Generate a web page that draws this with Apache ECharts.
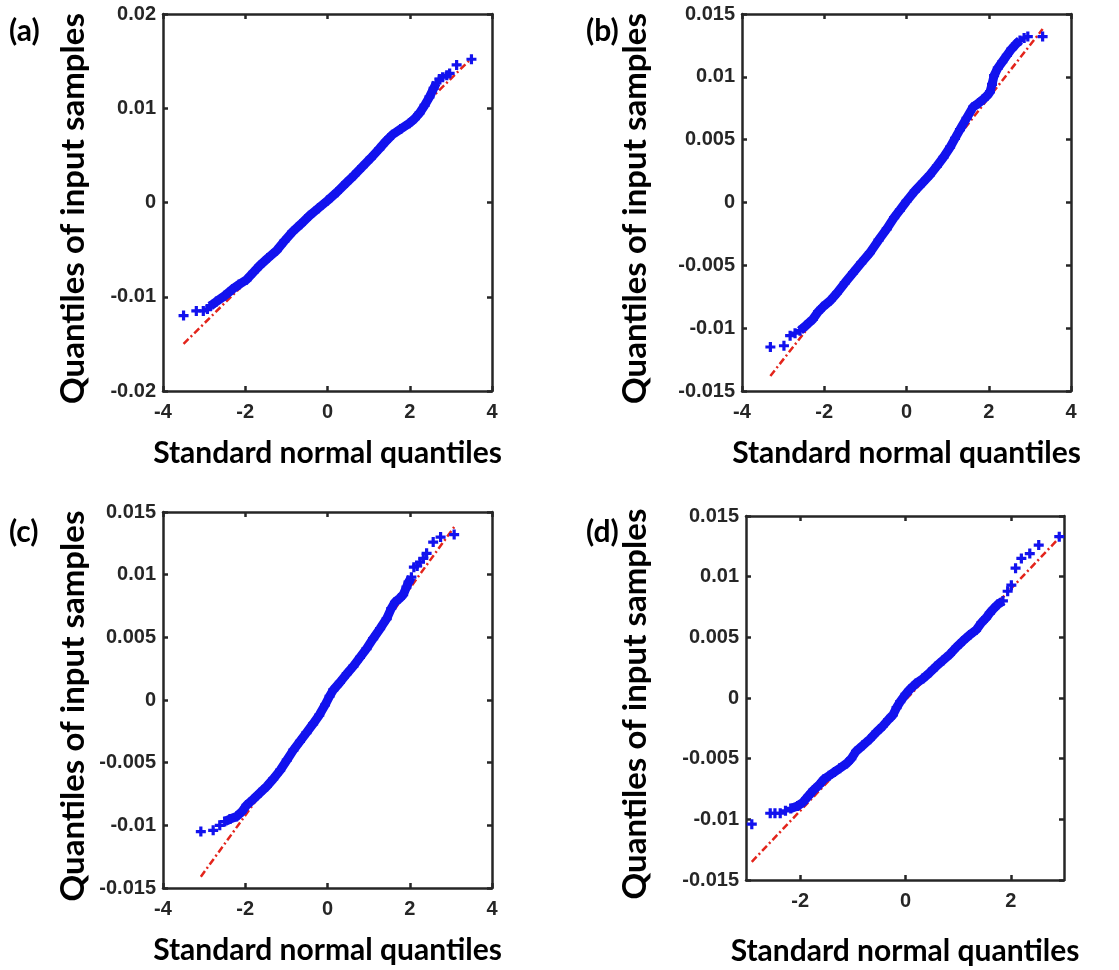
<!DOCTYPE html>
<html>
<head>
<meta charset="utf-8">
<title>QQ plots</title>
<script src="https://cdn.jsdelivr.net/npm/echarts@6/dist/echarts.min.js"></script>
<style>
  html, body { margin: 0; padding: 0; background: #fff; }
  #chart { width: 1119px; height: 970px; }
</style>
</head>
<body>
<div id="chart"></div>
<script>
// (a) sample quantiles vs standard normal quantiles
const tailA = [[-3.50, -0.0120], [-3.19, -0.0115], [-3.02, -0.0115], [-2.92, -0.0113],
  [2.72, 0.0131], [2.80, 0.0133], [2.90, 0.0135], [2.97, 0.0137], [3.14, 0.0146], [3.50, 0.0152]];
const bandA = [[-2.85, -0.0110], [-2.70, -0.0105], [-2.50, -0.0099], [-2.31, -0.0092], [-2.15, -0.0087],
  [-1.97, -0.0082], [-1.80, -0.0074], [-1.65, -0.0067], [-1.45, -0.0059], [-1.24, -0.0051],
  [-1.05, -0.0041], [-0.85, -0.0031], [-0.65, -0.0023], [-0.44, -0.0014], [-0.22, -0.0006],
  [0, 0.0002], [0.23, 0.0011], [0.46, 0.0021], [0.65, 0.0029], [0.85, 0.0038], [1.05, 0.0047],
  [1.26, 0.0057], [1.42, 0.0065], [1.58, 0.0072], [1.78, 0.0078], [1.99, 0.0084], [2.12, 0.0089],
  [2.24, 0.0095], [2.36, 0.0103], [2.48, 0.0112], [2.58, 0.0121], [2.65, 0.0127]];
const refA = [[-3.50, -0.0150], [3.50, 0.0153]];

// (b)
const tailB = [[-3.31, -0.0115], [-2.98, -0.0114], [-2.83, -0.0106], [-2.71, -0.0104],
  [2.86, 0.0131], [2.95, 0.0132], [3.31, 0.0132]];
const bandB = [[-2.59, -0.0102], [-2.45, -0.0098], [-2.28, -0.0093], [-2.15, -0.0087], [-2.03, -0.0083],
  [-1.85, -0.0078], [-1.69, -0.0072], [-1.50, -0.0064], [-1.30, -0.0056], [-1.10, -0.0048],
  [-0.89, -0.0040], [-0.68, -0.0030], [-0.48, -0.0021], [-0.30, -0.0012], [-0.16, -0.0006],
  [0, 0.0001], [0.20, 0.0009], [0.40, 0.0016], [0.57, 0.0022], [0.74, 0.0029], [0.90, 0.0036],
  [1.06, 0.0044], [1.18, 0.0051], [1.30, 0.0058], [1.46, 0.0067], [1.62, 0.0076], [1.75, 0.0079],
  [1.86, 0.0082], [1.96, 0.0085], [2.03, 0.0088], [2.08, 0.0094], [2.13, 0.0101], [2.22, 0.0107],
  [2.33, 0.0112], [2.44, 0.0117], [2.55, 0.0122], [2.66, 0.0126], [2.76, 0.0129]];
const refB = [[-3.31, -0.0138], [3.31, 0.0138]];

// (c)
const tailC = [[-3.08, -0.0105], [-2.78, -0.0104], [-2.62, -0.0100],
  [2.10, 0.0106], [2.18, 0.0107], [2.25, 0.0110], [2.33, 0.0113], [2.41, 0.0117],
  [2.57, 0.0126], [2.75, 0.0130], [3.08, 0.0132]];
const bandC = [[-2.50, -0.0097], [-2.37, -0.0095], [-2.21, -0.0093], [-2.08, -0.0089], [-1.97, -0.0084],
  [-1.80, -0.0079], [-1.64, -0.0074], [-1.48, -0.0069], [-1.32, -0.0063], [-1.15, -0.0056],
  [-0.99, -0.0048], [-0.83, -0.0040], [-0.67, -0.0033], [-0.51, -0.0026], [-0.35, -0.0019],
  [-0.20, -0.0012], [-0.06, -0.0004], [0.05, 0.0003], [0.14, 0.0008], [0.30, 0.0014],
  [0.47, 0.0021], [0.63, 0.0027], [0.79, 0.0034], [0.95, 0.0041], [1.11, 0.0049], [1.28, 0.0057],
  [1.44, 0.0065], [1.55, 0.0073], [1.64, 0.0078], [1.75, 0.0081], [1.84, 0.0084], [1.92, 0.0090],
  [1.97, 0.0094], [2.04, 0.0098]];
const refC = [[-3.08, -0.0141], [3.08, 0.0138]];

// (d)
const tailD = [[-2.92, -0.0104], [-2.57, -0.0095], [-2.48, -0.0095], [-2.38, -0.0095], [-2.28, -0.0093],
  [1.94, 0.0088], [2.01, 0.0093], [2.09, 0.0107], [2.20, 0.0115], [2.36, 0.0119], [2.53, 0.0126],
  [2.92, 0.0133]];
const bandD = [[-2.18, -0.0091], [-2.05, -0.0089], [-1.95, -0.0086], [-1.85, -0.0081], [-1.75, -0.0076],
  [-1.65, -0.0072], [-1.55, -0.0067], [-1.45, -0.0064], [-1.35, -0.0061], [-1.25, -0.0058],
  [-1.12, -0.0054], [-1.03, -0.0050], [-0.94, -0.0044], [-0.81, -0.0039], [-0.68, -0.0034],
  [-0.55, -0.0028], [-0.43, -0.0023], [-0.33, -0.0018], [-0.24, -0.0014], [-0.17, -0.0008],
  [-0.10, -0.0003], [0, 0.0003], [0.08, 0.0007], [0.20, 0.0012], [0.33, 0.0016], [0.46, 0.0021],
  [0.58, 0.0026], [0.71, 0.0031], [0.84, 0.0036], [0.97, 0.0042], [1.09, 0.0047], [1.22, 0.0052],
  [1.34, 0.0056], [1.44, 0.0062], [1.53, 0.0066], [1.60, 0.0070], [1.66, 0.0073], [1.75, 0.0077],
  [1.85, 0.0080]];
const refD = [[-2.92, -0.0135], [2.92, 0.0132]];

const xTicksD = [-2, 0, 2];
const panelLabels = ['(a)', '(b)', '(c)', '(d)'];

const AXIS_COLOR = '#262626';
const BLUE = '#1212ee';
const RED = '#e3241b';
const PLUS = 'path://M3.4,0 H6.6 V3.4 H10 V6.6 H6.6 V10 H3.4 V6.6 H0 V3.4 H3.4 Z';

const panels = [
  {grid: {left: 163, top: 14, width: 329, height: 377}, x: [-4, 4, 2], y: [-0.02, 0.02, 0.01],
    band: bandA, tail: tailA, ref: refA, xGap: 47, yGap: 73, label: [9, 16]},
  {grid: {left: 742, top: 14, width: 329, height: 377}, x: [-4, 4, 2], y: [-0.015, 0.015, 0.005],
    band: bandB, tail: tailB, ref: refB, xGap: 47, yGap: 90, label: [586, 16]},
  {grid: {left: 163, top: 512, width: 329, height: 376}, x: [-4, 4, 2], y: [-0.015, 0.015, 0.005],
    band: bandC, tail: tailC, ref: refC, xGap: 47, yGap: 73, label: [9, 517]},
  {grid: {left: 746, top: 516, width: 318, height: 364}, x: [-3.03, 3.01, null], y: [-0.015, 0.015, 0.005],
    band: bandD, tail: tailD, ref: refD, xGap: 56, yGap: 94, label: [586, 517], xCustom: xTicksD}
];

function frameAxis(base, side) {
  // inner ticks on all four sides, like a boxed matlab axes
  return Object.assign({
    type: 'value',
    position: side,
    splitLine: {show: false},
    axisLine: {show: true, onZero: false, lineStyle: {color: AXIS_COLOR, width: 2.5}},
    axisTick: {show: true, inside: true, length: 5, lineStyle: {color: AXIS_COLOR, width: 2.5}},
    axisLabel: {show: false}
  }, base);
}

let option = {
  animation: false,
  backgroundColor: '#fff',
  grid: [], xAxis: [], yAxis: [], series: [], graphic: []
};

panels.forEach((p, i) => {
  option.grid.push(Object.assign({containLabel: false, outerBoundsMode: 'none'}, p.grid));
  let xRange = {min: p.x[0], max: p.x[1], gridIndex: i};
  if (p.x[2]) xRange.interval = p.x[2];
  let yRange = {min: p.y[0], max: p.y[1], interval: p.y[2], gridIndex: i};

  let xb = frameAxis(Object.assign({}, xRange), 'bottom');
  xb.axisLabel = {show: true, margin: 11, color: AXIS_COLOR, fontFamily: 'Liberation Sans',
    fontWeight: 'bold', fontSize: 20};
  xb.name = 'Standard normal quantiles';
  xb.nameLocation = 'middle';
  xb.nameGap = p.xGap;
  xb.nameTextStyle = {fontFamily: 'Lato', fontWeight: 'bold', fontSize: 30, color: '#000'};
  let xt = frameAxis(Object.assign({}, xRange), 'top');
  if (p.xCustom) {
    xb.axisLabel.customValues = p.xCustom;
    xb.axisTick.customValues = p.xCustom;
    xt.axisTick.customValues = p.xCustom;
  }

  let yl = frameAxis(Object.assign({}, yRange), 'left');
  yl.axisLabel = {show: true, margin: 7, color: AXIS_COLOR, fontFamily: 'Liberation Sans',
    fontWeight: 'bold', fontSize: 20};
  yl.name = 'Quantiles of input samples';
  yl.nameLocation = 'middle';
  yl.nameGap = p.yGap;
  yl.nameTextStyle = {fontFamily: 'Lato', fontWeight: 'bold', fontSize: 33, color: '#000',
    padding: [0, 12, 0, 0]};
  let yr = frameAxis(Object.assign({}, yRange), 'right');

  let xIdx = option.xAxis.length, yIdx = option.yAxis.length;
  option.xAxis.push(xb, xt);
  option.yAxis.push(yl, yr);

  option.series.push({
    type: 'line', xAxisIndex: xIdx, yAxisIndex: yIdx, data: p.ref,
    symbol: 'none', z: 2,
    lineStyle: {color: RED, width: 2.5, type: [7, 3, 2, 3]}
  });
  option.series.push({
    type: 'line', xAxisIndex: xIdx, yAxisIndex: yIdx, data: p.band,
    symbol: 'none', z: 3,
    lineStyle: {color: BLUE, width: 9}
  });
  option.series.push({
    type: 'scatter', xAxisIndex: xIdx, yAxisIndex: yIdx, data: p.band.concat(p.tail),
    symbol: PLUS, symbolSize: 10, z: 4,
    itemStyle: {color: BLUE, opacity: 1}
  });

  option.graphic.push({
    type: 'text', left: p.label[0], top: p.label[1],
    style: {text: panelLabels[i], fill: '#000', font: 'bold 30px Lato'}
  });
});

let chart = echarts.init(document.getElementById('chart'));
chart.setOption(option);
window.addEventListener('resize', () => { chart.resize(); });
</script>
</body>
</html>
